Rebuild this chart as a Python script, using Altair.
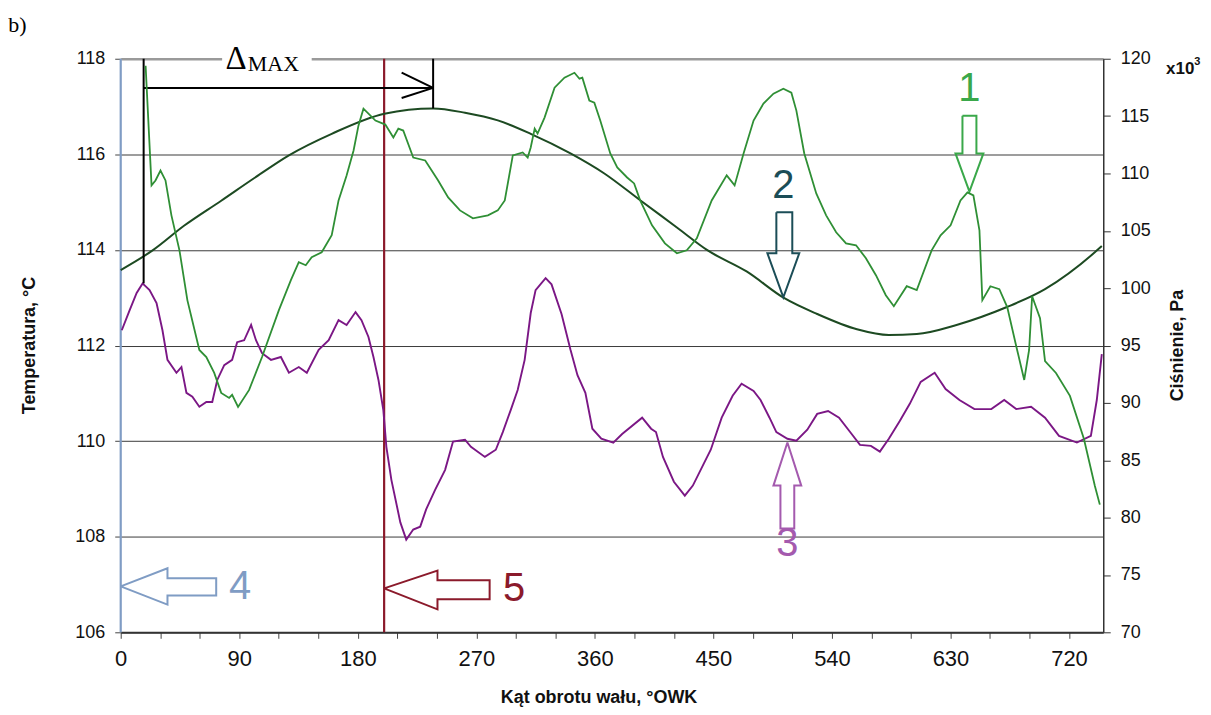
import altair as alt
import pandas as pd

# ---------------- data ----------------
# curve 1 (green) - pressure, kPa (right axis)
angle_green = [18.9, 23.4, 26.4, 30.2, 34.0, 38.5, 44.6, 50.6, 59.7, 65.0, 71.0, 76.3, 82.3, 84.6, 89.1,
               97.5, 107.3, 120.1, 129.2, 135.2, 140.5, 145.0, 152.6, 160.2, 165.4, 171.5, 176.8, 180.5,
               184.3, 193.4, 200.9, 207.0, 210.8, 214.5, 222.1, 231.2, 241.0, 248.6, 257.6, 267.4, 278.8,
               286.3, 291.6, 297.7, 305.2, 309.0, 311.3, 314.3, 316.5, 321.8, 329.4, 336.9, 344.5, 348.3,
               350.5, 355.8, 359.6, 364.1, 371.7, 377.0, 384.5, 389.8, 394.4, 403.4, 413.2, 422.3, 429.8,
               437.4, 448.7, 460.1, 466.1, 472.9, 480.5, 488.0, 495.6, 503.1, 509.2, 513.0, 519.0, 528.1,
               535.6, 543.2, 550.7, 558.3, 565.8, 573.4, 580.9, 587.0, 596.8, 604.4, 615.7, 622.5, 630.1,
               637.6, 642.9, 647.4, 652.0, 654.2, 660.3, 667.1, 673.1, 679.9, 686.0, 689.7, 692.0, 698.0,
               701.8, 710.1, 720.7, 731.3, 739.6, 743.4]
pressure_green = [119.39, 108.96, 109.39, 110.26, 109.39, 106.35, 103.30, 98.96, 94.61, 94.00, 92.61, 90.87,
                  90.43, 90.70, 89.65, 91.13, 94.00, 98.09, 100.70, 102.26, 102.00, 102.70, 103.13, 104.61,
                  107.65, 109.83, 112.00, 114.17, 115.65, 114.61, 114.26, 113.13, 113.91, 113.74, 111.39,
                  111.13, 109.39, 107.91, 106.78, 106.09, 106.35, 106.78, 107.65, 111.57, 111.83, 111.39,
                  112.26, 113.91, 113.48, 114.87, 117.48, 118.35, 118.78, 118.26, 118.35, 116.35, 116.17,
                  114.61, 111.74, 110.52, 109.65, 109.13, 107.65, 105.48, 103.91, 103.04, 103.30, 104.35,
                  107.65, 109.83, 108.96, 111.74, 114.61, 116.09, 116.96, 117.39, 117.04, 115.48, 111.74,
                  108.26, 106.35, 104.87, 103.91, 103.74, 102.61, 101.13, 99.39, 98.43, 100.17, 99.83,
                  103.30, 104.61, 105.48, 107.65, 108.35, 108.09, 105.04, 98.96, 100.17, 99.91, 98.35,
                  94.96, 92.00, 94.61, 99.30, 97.39, 93.65, 92.61, 90.61, 86.87, 82.78, 81.13]

# curve 2 (dark green) - temperature, degC (left axis)
angle_sine = [0, 24.2, 48.3, 76.3, 101.2, 127.7, 160.2, 200.2, 237.2, 261.4, 286.3, 311.3, 341.5, 367.2,
              394.4, 422.3, 445.7, 475.2, 503.9, 528.8, 559.0, 583.2, 604.4, 634.6, 672.4, 701.8, 739.6, 744.9]
temp_sine = [113.58, 113.99, 114.51, 115.03, 115.50, 115.98, 116.43, 116.85, 116.96, 116.87, 116.71, 116.43,
             116.02, 115.60, 115.04, 114.47, 113.99, 113.55, 112.99, 112.66, 112.34, 112.22, 112.24, 112.43,
             112.80, 113.18, 113.95, 114.08]

# curve 3 (purple) - temperature, degC (left axis)
angle_purple = [0.8, 6.8, 12.1, 16.6, 21.9, 27.2, 31.7, 35.5, 42.3, 46.1, 49.9, 54.4, 59.7, 65.0, 69.5, 73.3,
                78.6, 84.6, 88.4, 93.7, 99.0, 102.7, 107.3, 114.1, 121.6, 127.7, 135.2, 141.3, 150.3, 157.9,
                165.4, 171.5, 178.3, 182.8, 188.1, 191.9, 195.7, 199.4, 201.7, 205.5, 212.3, 216.8, 222.1,
                227.4, 231.9, 238.7, 246.3, 252.3, 261.4, 265.9, 276.5, 284.8, 290.1, 296.1, 301.4, 306.7,
                311.3, 315.0, 322.6, 327.1, 334.7, 341.5, 346.8, 352.8, 358.1, 364.9, 374.0, 380.7, 395.9,
                402.7, 406.4, 411.7, 420.0, 428.3, 434.4, 442.7, 448.0, 456.3, 464.6, 471.4, 480.5, 485.8,
                492.6, 497.8, 506.2, 513.0, 521.3, 528.8, 537.1, 545.4, 553.8, 561.3, 569.6, 576.4, 583.2,
                591.5, 599.1, 607.4, 618.0, 626.3, 636.8, 648.2, 661.0, 670.8, 679.9, 691.2, 701.8, 712.4,
                726.0, 736.6, 741.1, 744.9]
temp_purple = [112.32, 112.74, 113.10, 113.30, 113.16, 112.89, 112.32, 111.70, 111.43, 111.55, 111.01, 110.93,
               110.72, 110.82, 110.82, 111.28, 111.59, 111.70, 112.07, 112.11, 112.43, 112.11, 111.84, 111.70,
               111.76, 111.43, 111.55, 111.43, 111.91, 112.11, 112.53, 112.43, 112.70, 112.53, 112.18, 111.76,
               111.28, 110.65, 109.88, 109.19, 108.30, 107.94, 108.15, 108.21, 108.57, 108.98, 109.40, 109.99,
               110.03, 109.88, 109.67, 109.82, 110.19, 110.65, 111.07, 111.70, 112.68, 113.16, 113.41, 113.28,
               112.66, 111.91, 111.38, 111.01, 110.26, 110.05, 109.97, 110.15, 110.49, 110.26, 110.19, 109.67,
               109.15, 108.86, 109.07, 109.53, 109.82, 110.49, 110.95, 111.20, 111.05, 110.86, 110.49, 110.19,
               110.05, 110.01, 110.24, 110.57, 110.63, 110.49, 110.19, 109.92, 109.90, 109.78, 110.05, 110.42,
               110.78, 111.24, 111.43, 111.09, 110.86, 110.67, 110.67, 110.86, 110.67, 110.72, 110.49, 110.11,
               109.97, 110.11, 110.86, 111.82]

# marker lines 4 and 5, delta-max bracket
line4_angle = 0
line5_angle = 200
dmax_start = 17.4
dmax_end = 237.2

x_ticks = list(range(0, 721, 30))
t_ticks = [106, 108, 110, 112, 114, 116, 118]
p_ticks = [70, 75, 80, 85, 90, 95, 100, 105, 110, 115, 120]

arrow_ids = ["1", "2", "3", "4", "5"]
arrow_colors = ["#3aa84a", "#1b4d57", "#a45aae", "#7f9cc4", "#8b1a2b"]
arrow_x = {
    "1": [639.1, 649.7, 649.7, 655.0, 644.4, 633.8, 639.1, 639.1],
    "2": [497.8, 509.9, 509.9, 515.2, 503.1, 491.0, 497.8, 497.8],
    "3": [506.2, 516.7, 511.4, 511.4, 500.9, 500.9, 495.6, 506.2],
    "4": [0, 35.5, 35.5, 72.5, 72.5, 35.5, 35.5, 0],
    "5": [200, 240.5, 240.5, 280.1, 280.1, 240.5, 240.5, 200],
}
arrow_y = {
    "1": [116.81, 116.81, 116.02, 116.02, 115.22, 116.02, 116.02, 116.81],
    "2": [114.79, 114.79, 113.93, 113.93, 113.01, 113.93, 113.93, 114.79],
    "3": [109.97, 109.07, 109.07, 108.17, 108.17, 109.07, 109.07, 109.97],
    "4": [106.96, 107.34, 107.13, 107.13, 106.77, 106.77, 106.58, 106.96],
    "5": [106.92, 107.29, 107.09, 107.09, 106.69, 106.69, 106.48, 106.92],
}
label_x = [644.4, 503.1, 506.2, 90.6, 298.6]
label_y = [117.36, 115.33, 107.84, 106.94, 106.90]

# ---------------- frames ----------------
df_green = pd.DataFrame({"x": angle_green, "p": pressure_green})
df_sine = pd.DataFrame({"x": angle_sine, "t": temp_sine})
df_purple = pd.DataFrame({"x": angle_purple, "t": temp_purple})

rows = []
for aid in arrow_ids:
    for i, (ax, ay) in enumerate(zip(arrow_x[aid], arrow_y[aid])):
        rows.append({"id": aid, "o": i, "x": ax, "t": ay})
df_arrows = pd.DataFrame(rows)
df_labels = pd.DataFrame({"id": arrow_ids, "x": label_x, "t": label_y})

df_vlines = pd.DataFrame({"x": [line4_angle, line5_angle], "t": [106, 106], "t2": [118, 118],
                          "c": ["#7f9cc4", "#8b1a2b"]})
df_bracket = pd.DataFrame({
    "x": [dmax_start, dmax_start, 213.3, 213.3, dmax_end],
    "x2": [dmax_start, dmax_end, dmax_end, dmax_end, dmax_end],
    "t": [113.3, 117.39, 117.71, 117.18, 116.96],
    "t2": [118.0, 117.39, 117.39, 117.39, 118.0],
})

FONT = "Liberation Sans"
SERIF = "Liberation Serif"

xs = alt.Scale(domain=[0, 746], nice=False, zero=False)
ts = alt.Scale(domain=[106, 118], nice=False, zero=False)
ps = alt.Scale(domain=[70, 120], nice=False, zero=False)

X_AXIS = alt.Axis(values=x_ticks, labelExpr="datum.value % 90 == 0 ? datum.label : ''",
                  title="Kąt obrotu wału, °OWK", grid=False, tickSize=6, tickColor="#444",
                  domainColor="#333", domainWidth=2, labelFontSize=22, labelPadding=10,
                  labelFlush=False, labelOverlap=False, labelColor="#111",
                  titleFontSize=18, titleFontWeight="bold", titleX=479, titleY=70,
                  titleBaseline="alphabetic", titleColor="#111")
Y_AXIS_L = alt.Axis(values=t_ticks, title="Temperatura, °C", domain=False, tickSize=6, tickColor="#444",
                    labelFontSize=18, labelPadding=10, labelColor="#111",
                    grid=True,
                    gridColor={"condition": {"test": "datum.value == 118", "value": "#9a9a9a"},
                               "value": "#3a3a3a"},
                    gridWidth={"condition": {"test": "datum.value == 118", "value": 2.5},
                               "value": 1},
                    titleFontSize=18, titleFontWeight="bold", titleAngle=270, titleX=-91,
                    titleY=287, titleAlign="center", titleBaseline="middle", titleColor="#111")
Y_AXIS_R = alt.Axis(values=p_ticks, orient="right", title="Ciśnienie, Pa", grid=False, tickSize=7,
                    tickColor="#333", domainColor="#333", domainWidth=1.5, labelFontSize=18,
                    labelPadding=10, labelColor="#111",
                    titleFontSize=18, titleFontWeight="bold", titleAngle=270, titleX=74,
                    titleY=287, titleAlign="center", titleBaseline="middle", titleColor="#111")


def X(f="x"):
    return alt.X(f"{f}:Q", scale=xs, axis=X_AXIS)


def YT(f="t"):
    return alt.Y(f"{f}:Q", scale=ts, axis=Y_AXIS_L)


vlines = alt.Chart(df_vlines).mark_rule(strokeWidth=2.2).encode(
    x=X(), y=YT(), y2="t2:Q", color=alt.Color("c:N", scale=None))

sine = alt.Chart(df_sine).mark_line(color="#1d4a22", strokeWidth=2, interpolate="monotone").encode(
    x=X(), y=YT())

purple = alt.Chart(df_purple).mark_line(color="#7b1785", strokeWidth=1.9).encode(x=X(), y=YT())

bracket = alt.Chart(df_bracket).mark_rule(color="black", strokeWidth=2).encode(
    x=X(), x2="x2:Q", y=YT(), y2="t2:Q")

gap = alt.Chart(pd.DataFrame({"x": [77.0], "x2": [145.0], "t": [117.8], "t2": [118.2]})).mark_rect(
    color="white").encode(x=X(), x2="x2:Q", y=YT(), y2="t2:Q")

delta = alt.Chart(pd.DataFrame({"x": [79.5], "t": [117.79], "s": ["Δ"]})).mark_text(
    font=SERIF, fontSize=33, align="left", baseline="alphabetic", color="black").encode(
    x=X(), y=YT(), text="s:N")
dmax = alt.Chart(pd.DataFrame({"x": [96.5], "t": [117.75], "s": ["MAX"]})).mark_text(
    font=SERIF, fontSize=22, align="left", baseline="alphabetic", color="black").encode(
    x=X(), y=YT(), text="s:N")

color_ids = alt.Color("id:N", scale=alt.Scale(domain=arrow_ids, range=arrow_colors), legend=None)

arrows = alt.Chart(df_arrows).mark_line(strokeWidth=2).encode(
    x=X(), y=YT(), detail="id:N", order="o:Q", color=color_ids)

labels = alt.Chart(df_labels).mark_text(font=FONT, fontSize=40, align="center", baseline="middle").encode(
    x=X(), y=YT(), text="id:N", color=color_ids)

blabel = alt.Chart(pd.DataFrame({"x": [-85.4], "t": [118.55], "s": ["b)"]})).mark_text(
    font=SERIF, fontSize=22, align="left", baseline="alphabetic", color="black").encode(
    x=X(), y=YT(), text="s:N")
x10 = alt.Chart(pd.DataFrame({"x": [793.7], "t": [117.69], "s": ["x10"]})).mark_text(
    font=FONT, fontSize=17, fontWeight="bold", align="left", baseline="alphabetic", color="#111").encode(
    x=X(), y=YT(), text="s:N")
x10e = alt.Chart(pd.DataFrame({"x": [815.0], "t": [117.87], "s": ["3"]})).mark_text(
    font=FONT, fontSize=11, fontWeight="bold", align="left", baseline="alphabetic", color="#111").encode(
    x=X(), y=YT(), text="s:N")

left = alt.layer(vlines, sine, purple, bracket, gap, delta, dmax, arrows, labels, blabel, x10, x10e)

green = alt.Chart(df_green).mark_line(color="#2f8f35", strokeWidth=1.8).encode(
    x=X(), y=alt.Y("p:Q", scale=ps, axis=Y_AXIS_R))

chart = alt.layer(left, green).resolve_scale(y="independent").properties(
    width=985, height=575,
    autosize=alt.AutoSizeParams(type="none"),
    padding={"left": 113, "top": 50, "right": 100, "bottom": 74},
    background="white",
).configure_view(stroke=None).configure_axis(labelFont=FONT, titleFont=FONT).configure_text(font=FONT)

chart.save("out.html", embed_options={"renderer": "svg", "actions": False})
